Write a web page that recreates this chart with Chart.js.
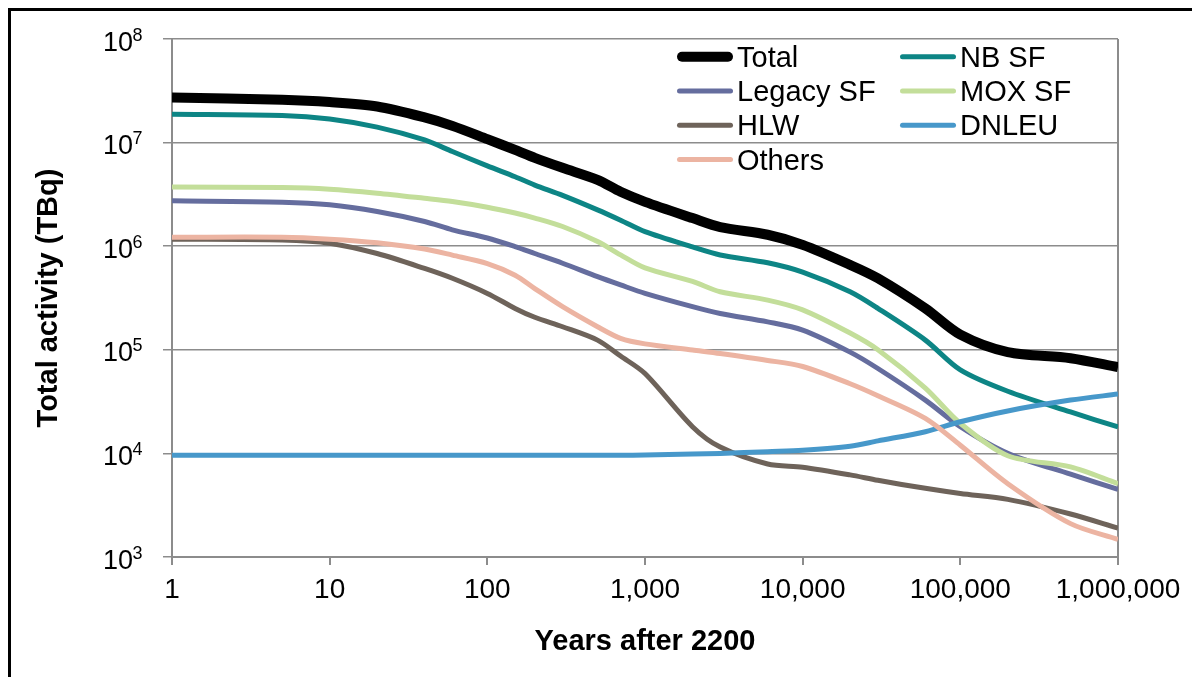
<!DOCTYPE html>
<html>
<head>
<meta charset="utf-8">
<script src="https://cdn.jsdelivr.net/npm/chart.js@4.4.1/dist/chart.umd.min.js"></script>
<style>
html,body{margin:0;padding:0;background:#fff;}
canvas{display:block;}
</style>
</head>
<body>
<canvas id="c" width="1192" height="677"></canvas>
<script>
// ---- data ----
const years = [1,5,10,20,40,60,100,150,200,300,500,700,1000,2000,3000,6000,10000,20000,30000,60000,100000,200000,500000,1000000];
const seriesNames = ['Total','NB SF','Legacy SF','MOX SF','HLW','DNLEU','Others'];
const total  = [2.73e7,2.59e7,2.46e7,2.23e7,1.75e7,1.45e7,1.08e7,8.5e6,7.13e6,5.71e6,4.37e6,3.35e6,2.68e6,1.87e6,1.53e6,1.29e6,1.03e6,6.6e5,4.9e5,2.51e5,1.40e5,9.5e4,8.3e4,6.8e4];
const nbSF   = [1.88e7,1.83e7,1.69e7,1.41e7,1.06e7,8.2e6,5.96e6,4.68e6,3.89e6,3.09e6,2.24e6,1.78e6,1.38e6,9.84e5,8.22e5,6.92e5,5.62e5,3.63e5,2.51e5,1.24e5,6.4e4,3.98e4,2.51e4,1.80e4];
const legacySF = [2.74e6,2.66e6,2.51e6,2.16e6,1.73e6,1.44e6,1.20e6,9.9e5,8.5e5,6.85e5,5.08e5,4.23e5,3.51e5,2.61e5,2.24e5,1.86e5,1.55e5,9.5e4,6.6e4,3.27e4,1.81e4,1.0e4,6.3e3,4.5e3];
const moxSF  = [3.72e6,3.68e6,3.55e6,3.25e6,2.90e6,2.70e6,2.38e6,2.09e6,1.87e6,1.55e6,1.11e6,8.24e5,6.17e5,4.57e5,3.63e5,3.02e5,2.43e5,1.45e5,1.0e5,4.27e4,1.95e4,9.5e3,7.4e3,5.1e3];
const hlw    = [1.17e6,1.15e6,1.07e6,8.5e5,6.1e5,4.9e5,3.5e5,2.51e5,2.06e5,1.67e5,1.24e5,8.7e4,5.9e4,1.81e4,1.15e4,7.9e3,7.35e3,6.2e3,5.5e3,4.6e3,4.1e3,3.6e3,2.6e3,1.9e3];
const dnleu  = [9.6e3,9.6e3,9.6e3,9.6e3,9.6e3,9.6e3,9.6e3,9.6e3,9.6e3,9.6e3,9.6e3,9.6e3,9.65e3,9.85e3,1.0e4,1.04e4,1.07e4,1.17e4,1.32e4,1.62e4,2.02e4,2.57e4,3.27e4,3.74e4];
const others = [1.22e6,1.22e6,1.17e6,1.08e6,9.4e5,8.2e5,6.8e5,5.25e5,3.9e5,2.61e5,1.67e5,1.29e5,1.14e5,9.95e4,9.2e4,7.9e4,6.9e4,4.7e4,3.6e4,2.18e4,1.2e4,5.1e3,2.1e3,1.48e3];
const xTicks = [1,10,100,1000,10000,100000,1000000];
const yTicks = [1e3,1e4,1e5,1e6,1e7,1e8];
const yTickExponents = ['3','4','5','6','7','8'];
const xTitle = 'Years after 2200';
const yTitle = 'Total activity (TBq)';

// ---- styles ----
const FONT = "'Liberation Sans', Arial, sans-serif";
const GRID = '#8c8c8c';
const seriesValues = [total, nbSF, legacySF, moxSF, hlw, dnleu, others];
const colors = ['#000000','#0d8585','#656d9e','#c3de9a','#6e635a','#4798ca','#ecb4a2'];
const widths = [10,5,5,5,5,5,5];

const datasets = seriesNames.map((name, i) => ({
  label: name,
  data: years.map((x, j) => ({x: x, y: seriesValues[i][j]})),
  borderColor: colors[i],
  backgroundColor: colors[i],
  borderWidth: widths[i],
  pointRadius: 0,
  pointHoverRadius: 0,
  fill: false,
  tension: 0.3,
  borderCapStyle: 'butt',
  borderJoinStyle: 'round',
  order: seriesNames.length - 1 - i
}));

const decor = {
  id: 'decor',
  beforeDraw(chart) {
    const ctx = chart.ctx;
    ctx.save();
    ctx.fillStyle = '#fff';
    ctx.fillRect(0, 0, chart.width, chart.height);
    ctx.restore();
  },
  afterDraw(chart) {
    const ctx = chart.ctx;
    ctx.save();
    // outer frame
    ctx.strokeStyle = '#000';
    ctx.lineWidth = 3;
    ctx.strokeRect(9.5, 9.5, 1400, 1000);
    // y tick labels with superscript exponent
    const ys = chart.scales.y;
    ctx.fillStyle = '#000';
    ctx.textBaseline = 'alphabetic';
    yTicks.forEach((v, i) => {
      const py = ys.getPixelForValue(v);
      ctx.font = '27px ' + FONT;
      ctx.textAlign = 'right';
      ctx.fillText('10', 133, py + 11.5);
      ctx.font = '18px ' + FONT;
      ctx.textAlign = 'left';
      ctx.fillText(yTickExponents[i], 132.5, py + 1.5);
    });
    // legend (2 columns, row-wise)
    const colX = [677, 900];
    const rowY0 = 56.7, rowH = 34.3;
    chart.data.datasets.forEach((ds, i) => {
      const cx = colX[i % 2];
      const cy = rowY0 + rowH * Math.floor(i / 2);
      ctx.strokeStyle = ds.borderColor;
      ctx.lineWidth = ds.borderWidth;
      ctx.lineCap = 'round';
      const inset = ds.borderWidth / 2;
      ctx.beginPath();
      ctx.moveTo(cx + inset, cy);
      ctx.lineTo(cx + 56 - inset, cy);
      ctx.stroke();
      ctx.font = '29px ' + FONT;
      ctx.textAlign = 'left';
      ctx.fillStyle = '#000';
      ctx.fillText(ds.label, cx + 60, cy + 10);
    });
    ctx.restore();
  }
};

new Chart(document.getElementById('c'), {
  type: 'line',
  data: { datasets: datasets },
  plugins: [decor],
  options: {
    responsive: false,
    animation: false,
    devicePixelRatio: 1,
    layout: { padding: { top: 39, right: 74, left: 0, bottom: 0 } },
    plugins: { legend: { display: false }, tooltip: { enabled: false } },
    scales: {
      x: {
        type: 'logarithmic',
        min: 1, max: 1000000,
        afterBuildTicks: s => { s.ticks = xTicks.map(v => ({value: v})); },
        afterFit: s => { s.height = 120; },
        ticks: {
          autoSkip: false, maxRotation: 0, minRotation: 0,
          padding: 8,
          color: '#000',
          font: { family: FONT, size: 28 },
          callback: v => Number(v).toLocaleString('en-US')
        },
        grid: {
          color: c => (c.tick && c.tick.value === 1000000) ? GRID : 'rgba(0,0,0,0)',
          tickColor: GRID,
          lineWidth: 2,
          tickLength: 8,
          drawTicks: true
        },
        border: { display: true, color: GRID, width: 2 },
        title: {
          display: true, text: xTitle, color: '#000',
          font: { family: FONT, size: 29, weight: 'bold' },
          padding: { top: 0, bottom: 18 }
        }
      },
      y: {
        type: 'logarithmic',
        min: 1000, max: 100000000,
        afterBuildTicks: s => { s.ticks = yTicks.map(v => ({value: v})); },
        afterFit: s => { s.width = 172; },
        ticks: { display: false },
        grid: {
          color: GRID,
          tickColor: GRID,
          lineWidth: 1.5,
          tickLength: 9,
          drawTicks: true
        },
        border: { display: true, color: GRID, width: 2 },
        title: {
          display: true, text: yTitle, color: '#000',
          font: { family: FONT, size: 29, weight: 'bold' },
          padding: { top: 32, bottom: 0 }
        }
      }
    }
  }
});
</script>
</body>
</html>
